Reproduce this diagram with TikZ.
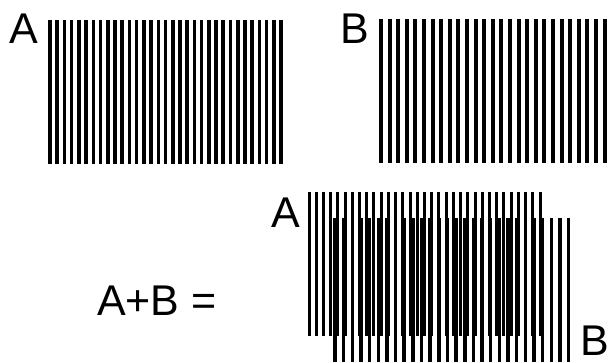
\documentclass[tikz,border=0pt]{standalone}
\usepackage{fontspec}
\setmainfont{Liberation Sans}
\tikzset{
  lbl/.style={anchor=base west, inner sep=0pt, font=\fontsize{43}{43}\selectfont},
  gratA/.style={line width=3.6pt, line cap=butt},
  gratB/.style={line width=4.0pt, line cap=butt},
  sumA/.style={line width=3.0pt, line cap=butt},
  sumB/.style={line width=3.5pt, line cap=butt}
}
\begin{document}
\begin{tikzpicture}[x=1pt,y=-1pt]
\useasboundingbox (0,0) rectangle (611,362);
% labels
\node[lbl] (la1) at (9,43) {A};
\node[lbl] (lb1) at (340,43) {B};
\node[lbl] (la2) at (271,227) {A};
\node[lbl] (lb2) at (580.5,355) {B};
\node[lbl] (sum) at (97,315) {A+B =};
% top grating A: 33 lines
\foreach \i in {0,...,32} {
  \draw[gratA] ({50+\i*7.22},20) -- ({50+\i*7.22},164);
}
% top grating B: 27 lines
\foreach \i in {0,...,26} {
  \draw[gratB] ({381+\i*8.6},19) -- ({381+\i*8.6},163);
}
% superposition
\foreach \i in {0,...,32} {
  \draw[sumA] ({309+\i*7.22},192) -- ({309+\i*7.22},336);
}
\foreach \i in {0,...,27} {
  \draw[sumB] ({335+\i*8.65},218) -- ({335+\i*8.65},362);
}
\end{tikzpicture}
\end{document}
